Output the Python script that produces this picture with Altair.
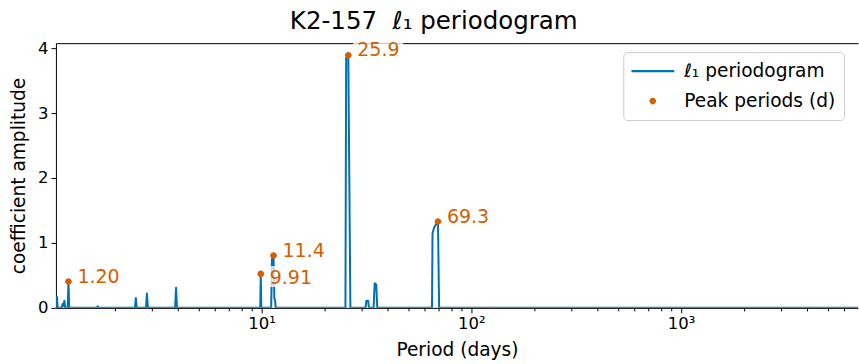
import altair as alt
import pandas as pd

# l1 periodogram of K2-157: coefficient amplitude against trial period (days)
period_days = [
    1.046, 1.052, 1.058, 1.064, 1.072,
    1.115, 1.125, 1.135, 1.148, 1.158,
    1.19, 1.20, 1.21,
    1.64, 1.652, 1.665,
    2.49, 2.515, 2.54,
    2.81, 2.84, 2.87,
    3.87, 3.91, 3.95,
    9.85, 9.91, 9.97,
    11.10, 11.14, 11.20, 11.40, 11.50, 11.60, 11.68,
    25.10, 25.30, 25.90, 26.50,
    31.3, 31.6, 32.2, 32.5,
    34.2, 34.6, 35.2, 35.6,
    64.9, 65.3, 66.5, 69.3, 70.2,
    6970.0,
]
coef_amplitude = [
    0.0, 0.0, 0.17, 0.03, 0.0,
    0.0, 0.06, 0.03, 0.11, 0.0,
    0.0, 0.405, 0.0,
    0.0, 0.025, 0.0,
    0.0, 0.15, 0.0,
    0.0, 0.22, 0.0,
    0.0, 0.31, 0.0,
    0.0, 0.523, 0.0,
    0.0, 0.22, 0.75, 0.805, 0.14, 0.12, 0.0,
    0.0, 3.85, 3.89, 0.0,
    0.0, 0.11, 0.11, 0.0,
    0.0, 0.38, 0.36, 0.0,
    0.0, 1.15, 1.24, 1.33, 0.0,
    0.0,
]

# Detected peaks
peak_period = [1.20, 9.91, 11.4, 25.9, 69.3]
peak_amplitude = [0.405, 0.523, 0.805, 3.89, 1.33]

LINE_NAME = "ℓ₁ periodogram"
PEAK_NAME = "Peak periods (d)"
BLUE = "#0072B2"
ORANGE = "#D55E00"
FONT = "DejaVu Sans"

# log-axis ticks: decades get labels, the rest are minor ticks
x_tick_values = [m * 10 ** k for k in range(0, 4) for m in range(1, 10) if 1.046 <= m * 10 ** k <= 6970]
decade_test = "datum.value == 10 || datum.value == 100 || datum.value == 1000"
decade_label = ("datum.value == 10 ? '10¹' : datum.value == 100 ? '10²' : "
                "datum.value == 1000 ? '10³' : ''")

# legend symbols: a short bar for the line, a small disc for the peaks
LINE_SYMBOL = "M-1,-0.05H1V0.05H-1Z"
DOT_SYMBOL = "M0.155,0A0.155,0.155,0,1,1,-0.155,0A0.155,0.155,0,1,1,0.155,0Z"
SYMBOL_SIZE = 1849

line_df = pd.DataFrame({"period": period_days, "amplitude": coef_amplitude})
peak_df = pd.DataFrame({"period": peak_period, "amplitude": peak_amplitude})
peak_df["series"] = PEAK_NAME

x_scale = alt.Scale(type="log", domain=[1.046, 6970], nice=False)
y_scale = alt.Scale(domain=[0, 4.077], nice=False, zero=False)

x_axis = alt.Axis(
    values=x_tick_values,
    labelExpr=decade_label,
    tickSize={"condition": {"test": decade_test, "value": 5}, "value": 3},
    labelOverlap=False,
    labelFlush=False,
    labelFontSize=16.5,
    labelPadding=3,
    title="Period (days)",
    titleFontSize=18.6,
    titlePadding=8,
    grid=False,
)
y_axis = alt.Axis(
    values=[0, 1, 2, 3, 4],
    format="d",
    tickSize=5,
    labelFontSize=16.5,
    labelPadding=3,
    title="coefficient amplitude",
    titleFontSize=18.6,
    titlePadding=9,
    grid=False,
)
top_axis = alt.Axis(orient="top", labels=False, ticks=False, domain=True, title=None, grid=False)

line = alt.Chart(line_df).mark_line(
    color=BLUE, strokeWidth=2, strokeJoin="round", clip=True
).encode(
    x=alt.X("period:Q", scale=x_scale, axis=x_axis),
    y=alt.Y("amplitude:Q", scale=y_scale, axis=y_axis),
)

# translucent white boxes behind the peak labels
box_above = alt.Chart(peak_df).transform_filter(alt.datum.period != 9.91).mark_rect(
    color="white", opacity=0.75, xOffset=5, x2Offset=55, yOffset=-17, y2Offset=4
).encode(
    x=alt.X("period:Q", scale=x_scale, axis=top_axis),
    x2="period:Q",
    y=alt.Y("amplitude:Q", scale=y_scale),
    y2="amplitude:Q",
)
box_below = alt.Chart(peak_df).transform_filter(alt.datum.period == 9.91).mark_rect(
    color="white", opacity=0.75, xOffset=5, x2Offset=55, yOffset=-8, y2Offset=13
).encode(
    x=alt.X("period:Q", scale=x_scale, axis=None),
    x2="period:Q",
    y=alt.Y("amplitude:Q", scale=y_scale),
    y2="amplitude:Q",
)

series_domain = [LINE_NAME, PEAK_NAME]
points = alt.Chart(peak_df).mark_point(filled=True, size=SYMBOL_SIZE, opacity=1, strokeWidth=0).encode(
    x=alt.X("period:Q", scale=x_scale, axis=None),
    y=alt.Y("amplitude:Q", scale=y_scale),
    color=alt.Color(
        "series:N",
        scale=alt.Scale(domain=series_domain, range=[BLUE, ORANGE]),
        legend=alt.Legend(
            title=None,
            orient="none",
            legendX=568,
            legendY=9,
            padding=8,
            fillColor="rgba(255,255,255,0.8)",
            strokeColor="#cccccc",
            cornerRadius=4,
            labelFont=FONT,
            labelFontSize=18.6,
            labelColor="black",
            labelOffset=10,
            rowPadding=8,
            clipHeight=22,
            symbolSize=SYMBOL_SIZE,
            symbolStrokeWidth=0,
            symbolOpacity=1,
        ),
    ),
    shape=alt.Shape(
        "series:N",
        scale=alt.Scale(domain=series_domain, range=[LINE_SYMBOL, DOT_SYMBOL]),
    ),
)

label_above = alt.Chart(peak_df).transform_filter(alt.datum.period != 9.91).mark_text(
    align="left", baseline="alphabetic", dx=9, dy=1, fontSize=19, font=FONT, color=ORANGE
).encode(
    x=alt.X("period:Q", scale=x_scale, axis=None),
    y=alt.Y("amplitude:Q", scale=y_scale),
    text=alt.Text("period:Q", format=".3g"),
)
label_below = alt.Chart(peak_df).transform_filter(alt.datum.period == 9.91).mark_text(
    align="left", baseline="alphabetic", dx=9, dy=10, fontSize=19, font=FONT, color=ORANGE
).encode(
    x=alt.X("period:Q", scale=x_scale, axis=None),
    y=alt.Y("amplitude:Q", scale=y_scale),
    text=alt.Text("period:Q", format=".3g"),
)

chart = alt.layer(
    line, box_above, box_below, points, label_above, label_below
).resolve_axis(
    x="independent"
).properties(
    width=803,
    height=265,
    padding={"left": 9, "top": 8, "right": 1, "bottom": 0},
    title=alt.Title(
        "K2-157\u00a0 ℓ₁ periodogram",
        fontSize=24.5,
        font=FONT,
        fontWeight="normal",
        color="black",
        anchor="middle",
        frame="bounds",
        offset=4,
    ),
).configure_view(
    stroke=None
).configure_axis(
    domainColor="black",
    tickColor="black",
    labelColor="black",
    titleColor="black",
    labelFont=FONT,
    titleFont=FONT,
    titleFontWeight="normal",
    domainWidth=1,
    tickWidth=1,
)

chart.save("out.html", embed_options={"renderer": "svg", "actions": False})
